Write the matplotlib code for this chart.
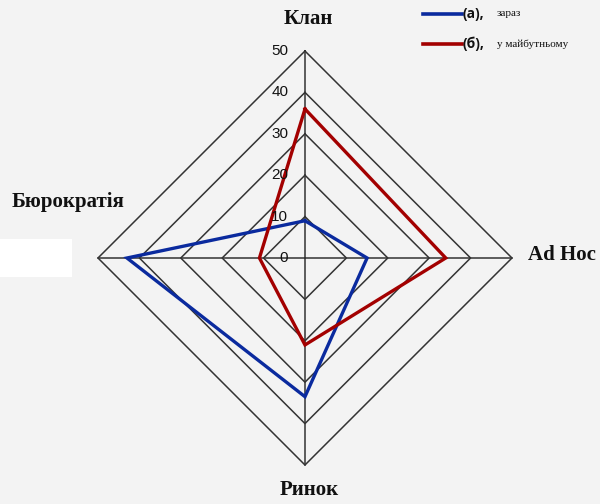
import numpy as np
import matplotlib
matplotlib.use('Agg')
import matplotlib.pyplot as plt
from matplotlib.patches import Rectangle

## chart data
categories = ['Клан', 'Ad Hoc', 'Ринок', 'Бюрократія']
now_vals = [9, 15, 33.5, 43]       ## (а), зараз
future_vals = [36, 34, 21, 11]     ## (б), у майбутньому
ring_levels = [10, 20, 30, 40, 50]
tick_labels = ['0', '10', '20', '30', '40', '50']
tick_values = [0, 10, 20, 30, 40, 50]

BG = '#f3f3f3'
BLUE = '#0a2a9e'
RED = '#a30000'
GRID = '#333333'

fig = plt.figure(figsize=(6.0, 5.04), dpi=100, facecolor=BG)
ax = fig.add_axes([0.1633, 0.0774, 0.69, 0.8214], projection='polar')
ax.set_facecolor(BG)
ax.set_theta_offset(np.pi / 2)
ax.set_theta_direction(-1)
ax.set_ylim(0, 50)
ax.grid(False)
ax.spines['polar'].set_visible(False)
ax.set_xticks([])
ax.set_yticks([])
ax.patch.set_alpha(0)

angles = np.linspace(0, 2 * np.pi, len(categories), endpoint=False)
closed = np.append(angles, angles[0])

## diamond grid rings and spokes
for lvl in ring_levels:
    ax.plot(closed, [lvl] * len(closed), color=GRID, lw=1.1, clip_on=False, zorder=1)
for a in angles:
    ax.plot([a, a], [0, 50], color=GRID, lw=1.1, clip_on=False, zorder=1)

## series
ax.plot(closed, now_vals + now_vals[:1], color=BLUE, lw=2.4, clip_on=False, zorder=3,
        solid_joinstyle='miter')
ax.plot(closed, future_vals + future_vals[:1], color=RED, lw=2.4, clip_on=False, zorder=3,
        solid_joinstyle='miter')

## radial tick labels along the top spoke
for v, t in zip(tick_values, tick_labels):
    ax.annotate(t, xy=(0, v), xytext=(-12, 0), textcoords='offset points',
                ha='right', va='center', fontsize=11, color='#111111',
                family='Liberation Sans', annotation_clip=False)

## category labels
serif = dict(family='Liberation Serif', fontweight='bold', fontsize=15, color='#111111')
fig.text(308 / 600, 1 - 19 / 504, categories[0], ha='center', va='center', **serif)
fig.text(528 / 600, 1 - 255 / 504, categories[1], ha='left', va='center', **serif)
fig.text(309 / 600, 1 - 490 / 504, categories[2], ha='center', va='center', **serif)
fig.text(12 / 600, 1 - 202 / 504, categories[3], ha='left', va='center', **serif)

## odd white patch at the left, as in the original
fig.patches.append(Rectangle((0, 1 - 277 / 504), 72 / 600, 38 / 504,
                             transform=fig.transFigure, facecolor='white', edgecolor='none'))

## legend drawn by hand
for y, col, tag, txt in [(14, BLUE, '(а),', 'зараз'), (44, RED, '(б),', 'у майбутньому')]:
    yf = 1 - y / 504
    fig.add_artist(plt.Line2D([423 / 600, 462 / 600], [yf, yf], color=col, lw=2.6,
                              transform=fig.transFigure))
    fig.text(463 / 600, yf, tag, ha='left', va='center', fontsize=10, fontweight='bold',
             color='#111111', family='Open Sans')
    fig.text(497 / 600, yf, txt, ha='left', va='center', fontsize=8,
             color='#111111', family='Liberation Serif')

plt.savefig('out.png', dpi=100, facecolor=BG)
